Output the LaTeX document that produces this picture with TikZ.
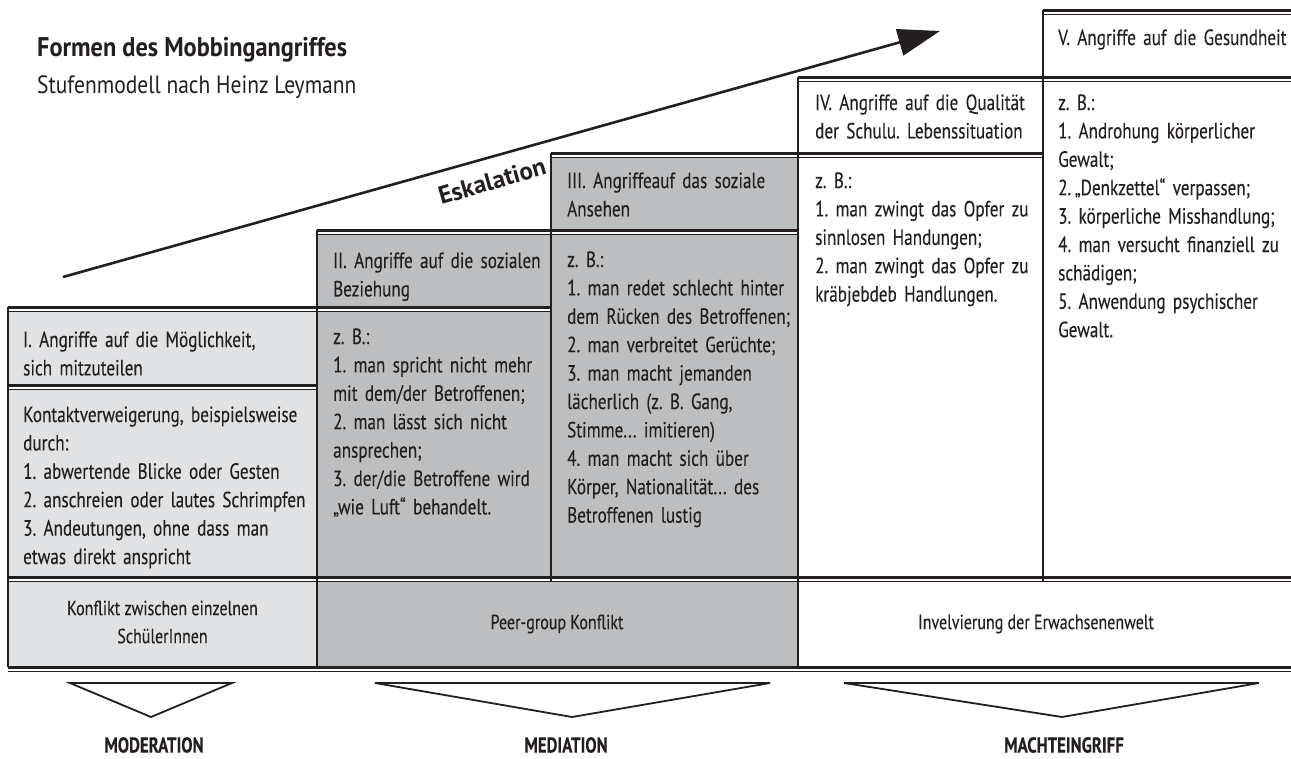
\documentclass[tikz,border=0pt]{standalone}
\usepackage{fontspec}
\setmainfont{PT Sans}
\newfontfamily\condf[FakeStretch=0.78,FakeBold=0.15]{PT Sans}
\newfontfamily\titlef[FakeStretch=0.9]{PT Sans}
\newfontfamily\subf[FakeStretch=0.86]{PT Sans}
\usetikzlibrary{arrows.meta}
\definecolor{lg}{HTML}{E1E2E4}
\definecolor{mg}{HTML}{BDBEC0}
\definecolor{ink}{HTML}{231F20}
\newcommand\dline[3]{%
  \fill[white] (#1,#3+1.4) rectangle (#2,#3+3.6);
  \draw[line width=3pt,ink] (#1,#3) -- (#2,#3);
  \draw[line width=1.1pt,ink] (#1,#3+4.2) -- (#2,#3+4.2);}
\hyphenpenalty=10000\relax
\begin{document}
\frenchspacing
\begin{tikzpicture}[x=1pt,y=-1pt,
  body/.style={anchor=base west, inner sep=0pt, align=left, text=ink,
    font=\condf\frenchspacing\fontsize{22}{28.4}\selectfont},
  mid/.style={anchor=center, inner sep=0pt, align=center, text=ink,
    font=\condf\frenchspacing\fontsize{20.5}{28}\selectfont},
  lab/.style={anchor=center, inner sep=0pt, text=ink,
    font=\condf\bfseries\fontsize{21.5}{22}\selectfont},
  vline/.style={line width=1.1pt, ink},
  tri/.style={line width=1.8pt, ink, fill=white, line join=miter}]
\useasboundingbox (0,0) rectangle (1291,758);
\fill[white] (0,0) rectangle (1291,758);
% fills
\fill[lg] (8,307) rectangle (317,667);
\fill[mg] (317,230) rectangle (551,577);
\fill[mg] (551,153) rectangle (798,577);
\fill[mg] (317,577) rectangle (798,667);
% double lines
\dline{1043}{1291}{10}
\dline{798}{1291}{77}
\dline{551}{1043}{153}
\dline{317}{798}{230}
\dline{8}{551}{307}
\dline{8}{317}{385}
\dline{8}{1291}{577}
\dline{8}{1291}{667}
% vertical lines
\draw[vline] (8,307) -- (8,667);
\draw[vline] (317,230) -- (317,667);
\draw[vline] (551,153) -- (551,581);
\draw[vline] (798,77) -- (798,667);
\draw[vline] (1043,10) -- (1043,581);
% title
\node[anchor=base west, inner sep=0pt, text=ink, font=\titlef\bfseries\fontsize{27}{30}\selectfont] (title) at (37,56) {Formen des Mobbingangriffes};
\node[anchor=base west, inner sep=0pt, text=ink, font=\subf\fontsize{25}{28}\selectfont] (sub) at (37,93) {Stufenmodell nach Heinz Leymann};
% escalation arrow
\coordinate (as) at (63,277);
\coordinate (ae) at (940,31);
\draw[line width=2.6pt, ink, -{Triangle[length=42pt,width=27pt]}] (as) -- (ae);
\node[rotate=16, inner sep=0pt, text=ink, font=\bfseries\fontsize{25}{28}\selectfont] (esk) at (492,181) {Eskalation};
% column 1
\node[body, text width=295pt] (h1) at (23,347) {I. Angriffe auf die Möglichkeit,\\sich mitzuteilen};
\node[body, text width=295pt] (c1) at (23,422) {Kontaktverweigerung, beispielsweise\\durch:\\1. abwertende Blicke oder Gesten\\2. anschreien oder lautes Schrimpfen\\3. Andeutungen, ohne dass man\\etwas direkt anspricht};
% column 2
\node[body, text width=225pt] (h2) at (333,268) {II. Angriffe auf die sozialen\\Beziehung};
\node[body, text width=225pt] (c2) at (333,344) {z. B.:\\1. man spricht nicht mehr\\mit dem/der Betroffenen;\\2. man lässt sich nicht\\ansprechen;\\3. der/die Betroffene wird\\„wie Luft“ behandelt.};
% column 3
\node[body, text width=235pt] (h3) at (567,188) {III. Angriffeauf das soziale\\Ansehen};
\node[body, text width=235pt] (c3) at (567,267) {z. B.:\\1. man redet schlecht hinter\\dem Rücken des Betroffenen;\\2. man verbreitet Gerüchte;\\3. man macht jemanden\\lächerlich (z. B. Gang,\\Stimme... imitieren)\\4. man macht sich über\\Körper, Nationalität... des\\Betroffenen lustig};
% column 4
\node[body, text width=235pt] (h4) at (815,110) {IV. Angriffe auf die Qualität\\der Schulu. Lebenssituation};
\node[body, text width=235pt] (c4) at (815,188) {z. B.:\\1. man zwingt das Opfer zu\\sinnlosen Handungen;\\2. man zwingt das Opfer zu\\kräbjebdeb Handlungen.};
% column 5
\node[body, text width=250pt] (h5) at (1058,45) {V. Angriffe auf die Gesundheit};
\node[body, text width=250pt] (c5) at (1058,110) {z. B.:\\1. Androhung körperlicher\\Gewalt;\\2.\,„Denkzettel“ verpassen;\\3. körperliche Misshandlung;\\4. man versucht finanziell zu\\schädigen;\\5. Anwendung psychischer\\Gewalt.};
% bottom row
\node[mid] (b1) at (162.5,622) {Konflikt zwischen einzelnen\\SchülerInnen};
\node[mid] (b2) at (557,624) {Peer-group Konflikt};
\node[mid] (b3) at (1036,624) {Invelvierung der Erwachsenenwelt};
% triangles
\draw[tri] (70,683) -- (232,683) -- (151,717) -- cycle;
\draw[tri] (375,683) -- (770,683) -- (572,717) -- cycle;
\draw[tri] (844,683) -- (1259,683) -- (1062,717) -- cycle;
\node[lab] (l1) at (154,745) {MODERATION};
\node[lab] (l2) at (566,745) {MEDIATION};
\node[lab] (l3) at (1064,745) {MACHTEINGRIFF};
\end{tikzpicture}
\end{document}
